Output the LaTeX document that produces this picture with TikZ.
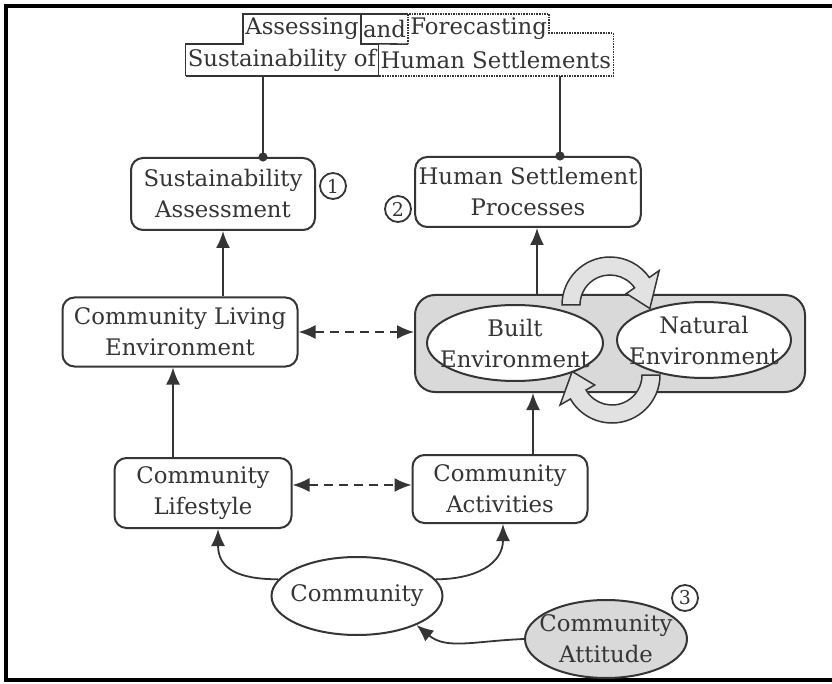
\documentclass[tikz,border=0pt]{standalone}
\usepackage{fontspec}
\setmainfont{DejaVu Serif}
\usetikzlibrary{positioning,shapes.geometric,arrows.meta}
\definecolor{inkgray}{HTML}{353535}
\definecolor{panelgray}{HTML}{D9D9D9}
\definecolor{loopgray}{HTML}{E2E2E2}

\begin{document}
\begin{tikzpicture}[x=1pt,y=-1pt,
  every node/.style={font=\fontsize{22.8}{31}\selectfont,align=center,text=inkgray},
  procbox/.style={draw=inkgray,line width=2pt,rounded corners=12pt,fill=white},
  envshape/.style={ellipse,draw=inkgray,line width=2pt,fill=white,inner sep=0pt},
  numtag/.style={circle,draw=inkgray,line width=1.8pt,inner sep=0pt,minimum size=26pt,font=\fontsize{19}{19}\selectfont},
  titleword/.style={inner xsep=2pt,inner ysep=0pt,minimum height=30pt,font=\fontsize{22.8}{23}\selectfont},
  flow/.style={draw=inkgray,line width=1.8pt,-{Latex[length=17pt,width=14pt]}},
  twoway/.style={draw=inkgray,line width=1.8pt,dash pattern=on 9pt off 6pt,{Latex[length=17pt,width=14pt]}-{Latex[length=17pt,width=14pt]}},
  tie/.style={draw=inkgray,line width=1.8pt,-{Circle[length=9pt,sep=-4.5pt]}},
  cyclearrow/.style={draw=inkgray,line width=1.5pt,fill=loopgray}]
  \useasboundingbox (0,0) rectangle (832,684);
  \draw[line width=3.5pt] (832,6) -- (6,6) -- (6,680) -- (832,680);

  % title, two outlined halves
  \node[titleword] (assess) at (302,29) {Assessing};
  \node[titleword,right=0pt of assess] (andw) {and};
  \node[titleword,right=0pt of andw] (fore) {Forecasting};
  \node[titleword,minimum height=32pt] (sust) at (282,60) {Sustainability of};
  \node[titleword,minimum height=32pt,right=0pt of sust] (human) {Human Settlements};
  \draw[inkgray,line width=1.6pt] (sust.south west) -- (sust.north west) -| (assess.north west) -- (andw.north east);
  \draw[inkgray,line width=1.6pt] (assess.north east) |- (sust.north east) -- (sust.south east) -- (sust.south west);
  \draw[inkgray,line width=1.6pt] (sust.north east) -- (andw.south east);
  \draw[inkgray,line width=1.6pt,densely dotted] (andw.south east) -- (andw.north east) -- (fore.north east)
    -- ([yshift=-4pt]fore.east) -| (human.south east) -- (human.south west);

  \node[procbox,minimum width=184pt,minimum height=72pt] (sustassess) at (223,194) {Sustainability\\Assessment};
  \node[procbox,minimum width=223pt,minimum height=70pt] (hsproc) at (528,192) {Human Settlement\\Processes};
  \node[procbox,minimum width=235pt,minimum height=69pt] (living) at (180,332) {Community Living\\Environment};
  \node[procbox,minimum width=177pt,minimum height=70pt] (lifestyle) at (203,493) {Community\\Lifestyle};
  \node[procbox,minimum width=175pt,minimum height=68pt] (activities) at (500,489) {Community\\Activities};
  \node[numtag] (tagone) at (333,186) {1};
  \node[numtag] (tagtwo) at (398,209) {2};

  % environment panel with the exchange loop
  \node[draw=inkgray,line width=2pt,fill=panelgray,rounded corners=20pt,minimum width=390pt,minimum height=97pt] (envpanel) at (610,343.5) {};
  \begin{scope}[shift={(610,305)}]
    \filldraw[cyclearrow] (180:48) arc[start angle=180,end angle=325,radius=48] -- (325:60) -- (5:40) -- (325:20)
      -- (325:30) arc[start angle=325,end angle=180,radius=30] -- cycle;
  \end{scope}
  \begin{scope}[shift={(612,375)}]
    \filldraw[cyclearrow] (0:48) arc[start angle=0,end angle=150,radius=48] -- (150:60) -- (185:40) -- (150:20)
      -- (150:30) arc[start angle=150,end angle=0,radius=30] -- cycle;
  \end{scope}
  \node[envshape,minimum width=176pt,minimum height=76pt,label={center:Built\\Environment}] (built) at (515,343) {};
  \node[envshape,minimum width=174pt,minimum height=76pt,label={center:Natural\\Environment}] (natural) at (704,340) {};

  \node[envshape,minimum width=171pt,minimum height=78pt,label={center:Community}] (community) at (357,596) {};
  \node[envshape,fill=panelgray,minimum width=162pt,minimum height=78pt,label={center:Community\\Attitude}] (attitude) at (606,639) {};
  \node[numtag] (tagthree) at (685,598) {3};

  % connectors
  \draw[tie] ([xshift=40pt]sustassess.north |- sust.south) -- ([xshift=40pt]sustassess.north);
  \draw[tie] ([xshift=32pt]hsproc.north |- human.south) -- ([xshift=32pt]hsproc.north);
  \draw[flow] (sustassess.south |- living.north) -- (sustassess.south);
  \draw[flow] ([xshift=9pt]hsproc.south |- envpanel.north) -- ([xshift=9pt]hsproc.south);
  \draw[flow] ([xshift=-7pt]living.south |- lifestyle.north) -- ([xshift=-7pt]living.south);
  \draw[flow] ([xshift=33pt]activities.north) -- ([xshift=33pt]activities.north |- envpanel.south);
  \draw[twoway] (living.east) -- (living.east -| envpanel.west);
  \draw[twoway] ([yshift=8pt]lifestyle.east) -- ([yshift=8pt]lifestyle.east -| activities.west);
  \draw[flow] (community.168) .. controls +(-40,0) and +(0,40) .. ([xshift=15pt]lifestyle.south);
  \draw[flow] (community.12) .. controls +(40,0) and +(0,40) .. ([xshift=3pt]activities.south);
  \draw[flow] (attitude.west) .. controls +(-50,2) and +(30,25) .. (community.-26);
\end{tikzpicture}
\end{document}
